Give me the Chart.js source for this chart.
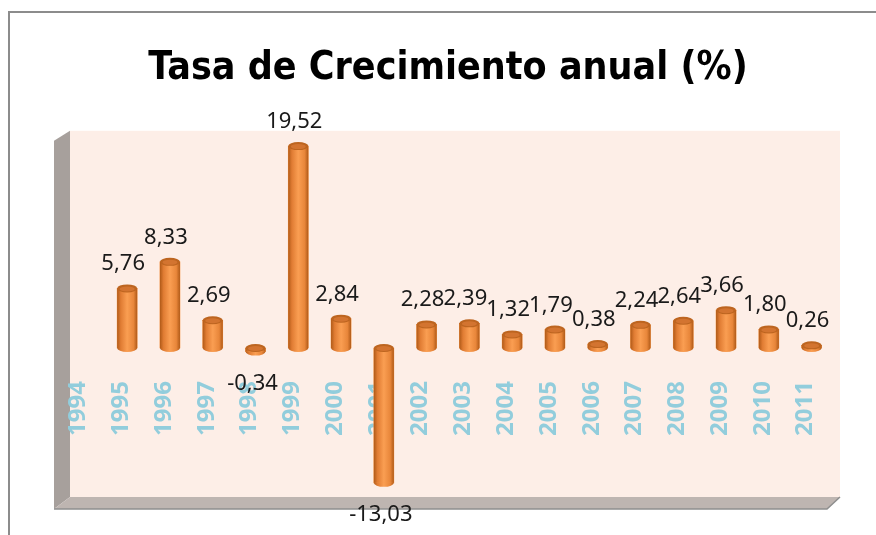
<!DOCTYPE html>
<html>
<head>
<meta charset="utf-8">
<script src="https://cdn.jsdelivr.net/npm/chart.js@4.4.0/dist/chart.umd.min.js"></script>
<style>
  html, body { margin: 0; padding: 0; background: #fff; }
</style>
</head>
<body>
<canvas id="myChart" width="876" height="535"></canvas>
<script>
// DATA
const years = ['1994', '1995', '1996', '1997', '1998', '1999', '2000', '2001', '2002',
  '2003', '2004', '2005', '2006', '2007', '2008', '2009', '2010', '2011'];
const growth = [null, 5.76, 8.33, 2.69, -0.34, 19.52, 2.84, -13.03, 2.28,
  2.39, 1.32, 1.79, 0.38, 2.24, 2.64, 3.66, 1.80, 0.26];
const yMin = -14.4;
const yMax = 21;

// fondo: marco, pared trasera, pared izquierda y suelo (efecto 3D)
const walls = {
  id: 'walls',
  beforeDraw(chart) {
    const c = chart.ctx, a = chart.chartArea;
    const L = a.left + 7, R = a.right + 7, T = a.top, B = a.bottom;
    c.save();
    c.strokeStyle = '#8c8c8c';
    c.lineWidth = 2;
    c.strokeRect(9, 12, 900, 600);
    c.fillStyle = '#fdeee7';
    c.fillRect(L, T, R - L, B - T);
    c.fillStyle = '#a7a09c';
    c.beginPath();
    c.moveTo(L - 16, T + 10); c.lineTo(L, T); c.lineTo(L, B); c.lineTo(L - 16, B + 12);
    c.closePath(); c.fill();
    c.fillStyle = '#beb5b1';
    c.beginPath();
    c.moveTo(L - 16, B + 12); c.lineTo(L, B); c.lineTo(R, B); c.lineTo(R - 13, B + 12);
    c.closePath(); c.fill();
    c.strokeStyle = '#8e8e8e';
    c.lineWidth = 1.5;
    c.beginPath();
    c.moveTo(L - 16, B + 12); c.lineTo(R - 13, B + 12); c.lineTo(R, B);
    c.stroke();
    c.restore();
  }
};

function bodyGradient(ctx, x, w) {
  const g = ctx.createLinearGradient(x - w / 2, 0, x + w / 2, 0);
  g.addColorStop(0, '#b05a18');
  g.addColorStop(0.18, '#e07c33');
  g.addColorStop(0.5, '#fa9e52');
  g.addColorStop(0.82, '#e8863a');
  g.addColorStop(1, '#b05a18');
  return g;
}

// cuerpo y tapas elipticas de los cilindros
const cylinders = {
  id: 'cylinders',
  afterDatasetsDraw(chart) {
    const c = chart.ctx;
    const meta = chart.getDatasetMeta(0);
    meta.data.forEach((el, i) => {
      if (growth[i] === null) return;
      const x = el.x, w = el.width, rx = w / 2, ry = 4;
      const top = Math.min(el.y, el.base), bot = Math.max(el.y, el.base);
      c.save();
      c.fillStyle = bodyGradient(c, x, w);
      c.fillRect(x - rx, top, w, bot - top);
      c.beginPath();
      c.ellipse(x, bot, rx, ry, 0, 0, Math.PI);
      c.fill();
      c.fillStyle = '#bd6520';
      c.beginPath();
      c.ellipse(x, top, rx, ry, 0, 0, Math.PI * 2);
      c.fill();
      c.fillStyle = '#d37430';
      c.beginPath();
      c.ellipse(x, top + 0.5, rx - 2.5, ry - 1.5, 0, 0, Math.PI * 2);
      c.fill();
      c.restore();
    });
  }
};

// etiquetas de valor con coma decimal
const valueLabels = {
  id: 'valueLabels',
  afterDatasetsDraw(chart) {
    const c = chart.ctx;
    const meta = chart.getDatasetMeta(0);
    c.save();
    c.font = '22px "Noto Sans"';
    c.fillStyle = '#1a1a1a';
    c.textAlign = 'center';
    meta.data.forEach((el, i) => {
      const v = growth[i];
      if (v === null) return;
      const txt = v.toFixed(2).replace('.', ',');
      if (v >= 0) {
        c.textBaseline = 'alphabetic';
        c.fillText(txt, el.x - 4, Math.min(el.y, el.base) - 18);
      } else {
        c.textBaseline = 'middle';
        c.fillText(txt, el.x - 3, Math.max(el.y, el.base) + 32);
      }
    });
    c.restore();
  }
};

new Chart(document.getElementById('myChart'), {
  type: 'bar',
  data: {
    labels: years,
    datasets: [{
      data: growth,
      backgroundColor: '#f79646',
      borderWidth: 0,
      barThickness: 20
    }]
  },
  options: {
    responsive: false,
    animation: false,
    layout: { padding: { left: 63, right: 43, top: 0, bottom: 38 } },
    plugins: {
      legend: { display: false },
      tooltip: { enabled: false },
      title: {
        display: true,
        text: 'Tasa de Crecimiento anual (%)',
        color: '#000',
        font: { family: '"Liberation Sans Narrow", "DejaVu Sans Condensed", sans-serif', size: 39, weight: 'bold' },
        padding: { top: 45, bottom: 39 }
      }
    },
    scales: {
      x: {
        position: { y: 0 },
        z: 1,
        grid: { display: false },
        border: { display: false },
        ticks: {
          minRotation: 90,
          maxRotation: 90,
          padding: 25,
          labelOffset: -6,
          color: '#92cddc',
          font: { family: '"Noto Sans"', size: 24, weight: 'bold' }
        }
      },
      y: {
        display: false,
        min: yMin,
        max: yMax
      }
    }
  },
  plugins: [walls, cylinders, valueLabels]
});
</script>
</body>
</html>
